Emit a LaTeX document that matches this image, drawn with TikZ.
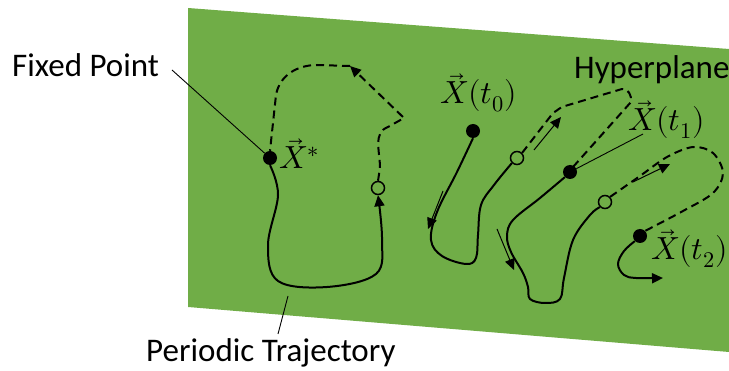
\documentclass[tikz,border=0pt]{standalone}
\usepackage{fontspec}
\usepackage{unicode-math}
\setmainfont{Carlito}
\setmathfont{Latin Modern Math}
\usetikzlibrary{arrows.meta}
\definecolor{plane}{HTML}{70AD47}
\tikzset{
  dot/.style={circle,fill=black,inner sep=0pt,minimum size=14pt},
  hollow/.style={circle,draw=black,line width=1.5pt,inner sep=0pt,minimum size=13pt},
  traj/.style={line width=2pt,line join=round},
  dtraj/.style={line width=2pt,dash pattern=on 8pt off 5pt,line join=round},
  para/.style={line width=1pt,-{Triangle[length=11pt,width=10pt]}},
  leader/.style={line width=0.9pt},
  lbl/.style={inner sep=0pt,font=\fontsize{33}{39}\selectfont},
  mlbl/.style={inner sep=0pt,font=\fontsize{32}{38}\selectfont},
  tip/.style={-{Triangle[length=11pt,width=10pt]}}
}
\begin{document}
\begin{tikzpicture}[x=1pt,y=-1pt]
\useasboundingbox (0,0) rectangle (729,371);
\fill[plane] (188,8) -- (729,49) -- (729,352) -- (188,307) -- cycle;

% nodes
\node[dot] (FP) at (270,158) {};
\node[hollow] (C0) at (378,188) {};
\node[dot] (D0) at (473,131) {};
\node[hollow] (C1) at (517,158) {};
\node[dot] (D1) at (570,172) {};
\node[hollow] (C2) at (605,202) {};
\node[dot] (D2) at (640,236) {};

% texts
\node[lbl,anchor=base west] (tFP) at (12,77) {Fixed Point};
\node[lbl,anchor=base west] (tHP) at (574,79) {Hyperplane};
\node[lbl,anchor=base west] (tPT) at (146,362) {Periodic Trajectory};
\node[mlbl,anchor=base west] (lFP) at (279,169) {$\vec{X}^{*}$};
\node[mlbl,anchor=base west] (l0) at (440,104) {$\vec{X}(t_0)$};
\node[mlbl,anchor=base west] (l1) at (628,131) {$\vec{X}(t_1)$};
\node[mlbl,anchor=base west] (l2) at (651,260) {$\vec{X}(t_2)$};

% leaders
\coordinate (fpA) at (172,70);
\draw[leader] (fpA) -- (FP);
\coordinate (ptA) at (278,334);
\coordinate (ptB) at (288,296);
\draw[leader] (ptA) -- (ptB);
\coordinate (t1A) at (643,134);
\draw[leader] (D1) -- (t1A);

% periodic loop
\draw[traj,tip] plot[smooth,tension=0.6] coordinates {(FP.south) (278,195) (268,245) (278,281) (327,287) (376,274) (382,240) (C0.south)};
\coordinate (m0) at (350,66);
\draw[dtraj,tip] (C0.north) -- (380,168) to[out=90,in=200] (388,127) -- (404,118) -- (m0);
\draw[dtraj] (m0) -- (317,65) to[out=180,in=80] (276,95) -- (FP.north);

% trajectory 0
\draw[traj] plot[smooth,tension=0.6] coordinates {(D0.south) (457,172) (437,212) (431,240) (442,256) (466,264) (476,258) (478,235) (481,205) (494,185) (C1.south west)};
\coordinate (a0s) at (443,191);
\coordinate (a0e) at (428,229);
\draw[para] (a0s) -- (a0e);

% dashed 1
\draw[dtraj] (C1.north east) -- (553,113) to[out=30,in=195] (565,106) -- (622,89) to[out=10,in=80] (631,102) -- (573,167) -- (D1);
\coordinate (a1s) at (534,150);
\coordinate (a1e) at (561,117);
\draw[para] (a1s) -- (a1e);

% trajectory 1
\draw[traj] plot[smooth,tension=0.6] coordinates {(D1.south west) (540,198) (513,220) (507,236) (511,252) (523,273) (528,287) (530,299) (545,303) (560,299) (564,278) (573,240) (590,215) (C2.south west)};
\coordinate (a2s) at (497,229);
\coordinate (a2e) at (514,270);
\draw[para] (a2s) -- (a2e);

% dashed 2
\draw[dtraj] plot[smooth,tension=0.55] coordinates {(C2.north east) (640,176) (667,157) (693,147) (713,153) (723,173) (713,193) (683,211) (D2.north east)};
\coordinate (a3s) at (633,182);
\coordinate (a3e) at (670,164);
\draw[para] (a3s) -- (a3e);

% trajectory 2
\coordinate (e2) at (663,278);
\draw[traj,tip] plot[smooth,tension=0.6] coordinates {(D2.south west) (624,251) (618,264) (624,275) (636,278) (e2)};
\end{tikzpicture}
\end{document}
